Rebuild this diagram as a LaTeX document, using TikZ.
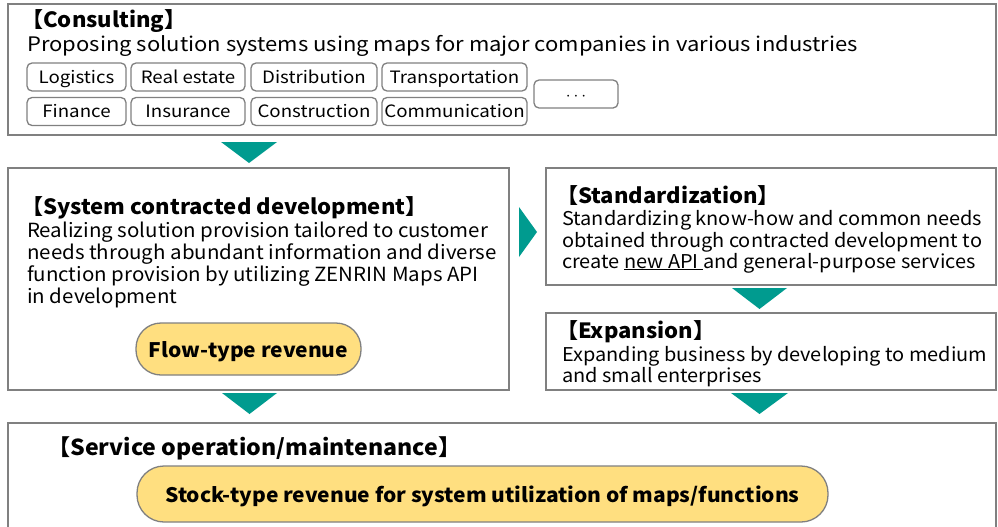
\documentclass[tikz,border=0pt]{standalone}
\usepackage{fontspec}
\setmainfont[FakeStretch=1.05]{Noto Sans CJK JP}
\newfontfamily\widefont[FakeStretch=1.1]{Noto Sans CJK JP}
\usetikzlibrary{calc}
\definecolor{tealA}{RGB}{0,155,143}
\definecolor{pillY}{RGB}{255,223,128}
\definecolor{edgeG}{RGB}{128,128,128}
\begin{document}
\begin{tikzpicture}[x=1pt,y=-1pt,
  box/.style={draw=edgeG, line width=2pt, fill=white, anchor=north west, inner sep=0pt},
  tag/.style={draw=edgeG, line width=1.3pt, rounded corners=5pt, inner sep=0pt,
     font=\widefont\fontsize{17}{18}\selectfont, minimum height=28pt,
     text height=14pt, text depth=2pt},
  pill/.style={draw=edgeG, line width=1.3pt, fill=pillY, rounded corners=25pt, inner sep=0pt,
     font=\bfseries\fontsize{20}{22}\selectfont, text height=18pt, text depth=2pt},
  ttl/.style={font=\bfseries\fontsize{21}{24}\selectfont, anchor=base west, inner sep=0pt},
  body/.style={font=\fontsize{19}{22}\selectfont, anchor=base west, inner sep=0pt},
  tri/.style={fill=tealA}]
\useasboundingbox (0,0) rectangle (998,527);
\clip (0,0) rectangle (998,527);
% boxes
\node[box, minimum width=988pt, minimum height=131pt] (cons) at (7,3) {};
\node[box, minimum width=501pt, minimum height=222pt] (sys) at (7,167) {};
\node[box, minimum width=450pt, minimum height=117pt] (std) at (545,167) {};
\node[box, minimum width=450pt, minimum height=77pt] (exp) at (545,312) {};
\node[box, minimum width=988pt, minimum height=130pt] (svc) at (7,422) {};
% consulting
\node[ttl] (consT) at (21,28) {【Consulting】};
\node[body, font=\widefont\fontsize{20}{22}\selectfont] (consL) at (27,52) {Proposing solution systems using maps for major companies in various industries};
\node[tag, minimum width=99pt]  (t1) at (76.5,77) {Logistics};
\node[tag, minimum width=114pt] (t2) at (188,77) {Real estate};
\node[tag, minimum width=126pt] (t3) at (314,77) {Distribution};
\node[tag, minimum width=145pt] (t4) at (454.5,77) {Transportation};
\node[tag, minimum width=99pt]  (t5) at (76.5,111.5) {Finance};
\node[tag, minimum width=114pt] (t6) at (188,111.5) {Insurance};
\node[tag, minimum width=126pt] (t7) at (314,111.5) {Construction};
\node[tag, minimum width=145pt] (t8) at (454.5,111.5) {Communication};
\node[tag, minimum width=84pt]  (t9) at (576,94) {$\cdots$};
% system contracted development
\node[ttl] (sysT) at (21,214) {【System contracted development】};
\node[body, font=\fontsize{19.5}{22}\selectfont] (sys1) at (27,237) {Realizing solution provision tailored to customer};
\node[body, font=\fontsize{19.5}{22}\selectfont] (sys2) at (27,259) {needs through abundant information and diverse};
\node[body, font=\fontsize{19.5}{22}\selectfont] (sys3) at (27,281) {function provision by utilizing ZENRIN Maps API};
\node[body, font=\fontsize{19.5}{22}\selectfont] (sys4) at (27,303) {in development};
\node[pill, minimum width=225pt, minimum height=52pt] (flow) at (248.5,349) {Flow-type revenue};
% standardization
\node[ttl] (stdT) at (556,203) {【Standardization】};
\node[body] (std1) at (562,225) {Standardizing know-how and common needs};
\node[body] (std2) at (562,247) {obtained through contracted development to};
\node[body] (std3) at (562,268) {create \underline{new API }and general-purpose services};
% expansion
\node[ttl] (expT) at (556,338) {【Expansion】};
\node[body] (exp1) at (562,361) {Expanding business by developing to medium};
\node[body] (exp2) at (562,382) {and small enterprises};
% service
\node[ttl, font=\bfseries\fontsize{22}{24}\selectfont] (svcT) at (47,455) {【Service operation/maintenance】};
\node[pill, minimum width=691pt, minimum height=56pt, rounded corners=27pt] (stock) at (482.5,494) {Stock-type revenue for system utilization of maps/functions};
% arrows
\fill[tri] (221,142) -- (277,142) -- (249,163) -- cycle;
\fill[tri] (519,207) -- (537,232) -- (519,257) -- cycle;
\fill[tri] (732,288) -- (787,288) -- (759.5,309) -- cycle;
\fill[tri] (222,393) -- (277,393) -- (249.5,414) -- cycle;
\fill[tri] (731,393) -- (788,393) -- (759.5,414) -- cycle;
\end{tikzpicture}
\end{document}
